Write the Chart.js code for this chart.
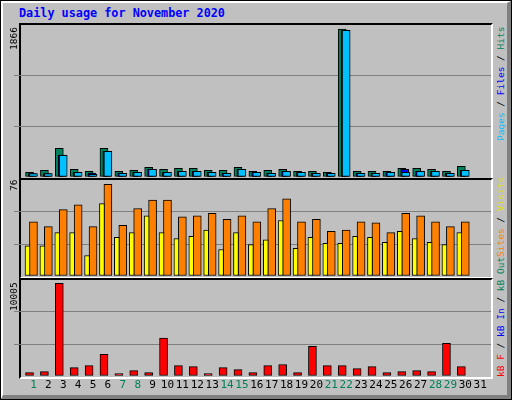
<!DOCTYPE html>
<html><head><meta charset="utf-8">
<script src="https://cdn.jsdelivr.net/npm/chart.js@4/dist/chart.umd.min.js"></script>
<style>
body{margin:0;background:#c0c0c0;}
#frame{position:absolute;left:0;top:0;width:512px;height:400px;box-sizing:border-box;border:1px solid #000;background:#c0c0c0;}
#inner{position:absolute;left:0;top:0;right:0;bottom:0;border-top:2px solid #fff;border-left:2px solid #fff;border-right:4px solid #808080;border-bottom:4px solid #808080;}
.txt{position:absolute;font-family:"DejaVu Sans Mono",monospace;}
.vt{position:absolute;writing-mode:vertical-rl;transform:rotate(180deg);font-family:"DejaVu Sans Mono",monospace;font-size:9.5px;white-space:nowrap;line-height:10px;width:10px;}
.panel{position:absolute;box-sizing:border-box;border-top:2px solid #000;border-left:2px solid #000;border-right:2px solid #fff;border-bottom:2px solid #fff;}
canvas{position:absolute;}
</style></head>
<body>
<div id="frame"><div id="inner"></div></div>
<div class="txt" style="left:19px;top:6px;font-size:11.8px;font-weight:bold;color:#0000ff;">Daily usage for November 2020</div>
<div class="panel" style="left:19px;top:23px;width:474px;height:157px;"></div>
<div class="panel" style="left:19px;top:178px;width:474px;height:101px;"></div>
<div class="panel" style="left:19px;top:278px;width:474px;height:101px;"></div>
<canvas id="c1" width="477" height="152" style="left:14px;top:25px;"></canvas>
<canvas id="c2" width="477" height="96" style="left:14px;top:180px;"></canvas>
<canvas id="c3" width="477" height="116" style="left:14px;top:280px;"></canvas>
<div class="vt" style="left:9px;top:27px;height:60px;text-align:end;">1866</div>
<div class="vt" style="left:9px;top:180px;height:40px;text-align:end;">76</div>
<div class="vt" style="left:9px;top:282px;height:60px;text-align:end;">10005</div>
<div class="vt" style="left:496px;top:27px;height:150px;text-align:end;"><span style="color:#00c0ff">Pages</span> / <span style="color:#0000ff">Files</span> / <span style="color:#00805c">Hits</span></div>
<div class="vt" style="left:496px;top:177px;height:98px;text-align:end;"><span style="color:#ff8000">Sites</span> / <span style="color:#e0e000">Visits</span></div>
<div class="vt" style="left:496px;top:262px;height:115px;text-align:start;"><span style="color:#ff0000">kB F</span> / <span style="color:#0000ff">kB In</span> / <span style="color:#00805c">kB Out</span></div>
<script>
const days = Array.from({length:31},(_,i)=>i+1);
const weekendDays = [1,7,8,14,15,21,22,28,29];
const hits  = [59,84,361,97,71,361,71,84,122,97,109,109,84,84,122,71,84,97,71,71,59,1866,71,71,71,109,109,97,71,134,0];
const files = [42,42,275,59,50,323,46,59,97,59,71,71,59,46,97,59,46,71,59,46,46,1850,46,46,59,97,71,71,46,84,0];
const pages = [42,42,273,59,34,323,46,59,97,59,71,71,59,46,97,59,46,71,59,46,46,1850,46,46,59,59,71,71,46,84,0];
const visits= [25,25,36,36,17,60,32,36,50,36,31,33,38,22,36,26,30,46,23,32,27,27,33,32,28,37,31,28,26,36,0];
const sites = [45,41,55,59,41,76,42,56,63,63,49,50,52,47,50,45,56,64,45,47,37,38,45,44,36,52,50,45,41,45,0];
const kbytes= [365,475,10005,913,1130,2336,255,584,365,4088,1130,1022,255,913,694,365,1130,1241,365,3212,1130,1130,803,1022,365,475,584,475,3540,1022,0];
const maxLabels = [1866,76,10005];

const XMIN=0.21, XMAX=31.21;
function pts(vals, off){ return days.map((d,i)=>({x:d+off,y:vals[i]})); }
function ds(vals, off, color, w){
  return {data:pts(vals,off),backgroundColor:color,borderColor:'#000',borderWidth:1,barThickness:w,borderSkipped:false,grouped:false};
}
function yAxis(max){
  return {min:0,max:max,afterBuildTicks:s=>{s.ticks=[0,1,2,3].map(k=>({value:max*k/3}));},
    ticks:{display:false},border:{display:false},
    grid:{color:c=>(c.index===1||c.index===2)?'#808080':'rgba(0,0,0,0)',drawTicks:false,lineWidth:1},
    afterFit:s=>{s.width=0;}};
}
function xAxis(show){
  return {type:'linear',min:XMIN,max:XMAX,display:show,
    afterBuildTicks:s=>{s.ticks=days.map(v=>({value:v}));},
    grid:{display:false,drawTicks:false},border:{display:false},
    ticks:{autoSkip:false,maxRotation:0,padding:3,font:{family:'DejaVu Sans Mono',size:11},
      color:c=>weekendDays.includes(c.tick.value)?'#00805c':'#000',callback:v=>String(v)},
    afterFit:s=>{if(show)s.height=20;}};
}
function make(id, datasets, max, showX){
  new Chart(document.getElementById(id),{type:'bar',data:{datasets},
    options:{responsive:false,animation:false,devicePixelRatio:1,layout:{padding:0},
      plugins:{legend:{display:false},tooltip:{enabled:false}},
      scales:{x:xAxis(showX),y:yAxis(max)}}});
}
make('c1',[ds(pages,0,'#00c0ff',8),ds(files,-0.07,'#0000ff',8),ds(hits,-0.264,'#00805c',8)],maxLabels[0]*152/148,false);
make('c2',[ds(visits,-0.4,'#ffff00',5),ds(sites,0,'#ff8000',8)],maxLabels[1]*96.7/92.3,false);
make('c3',[ds(kbytes,-0.264,'#ff0000',8)],maxLabels[2]*94.7/91.3,true);
</script>
</body></html>
